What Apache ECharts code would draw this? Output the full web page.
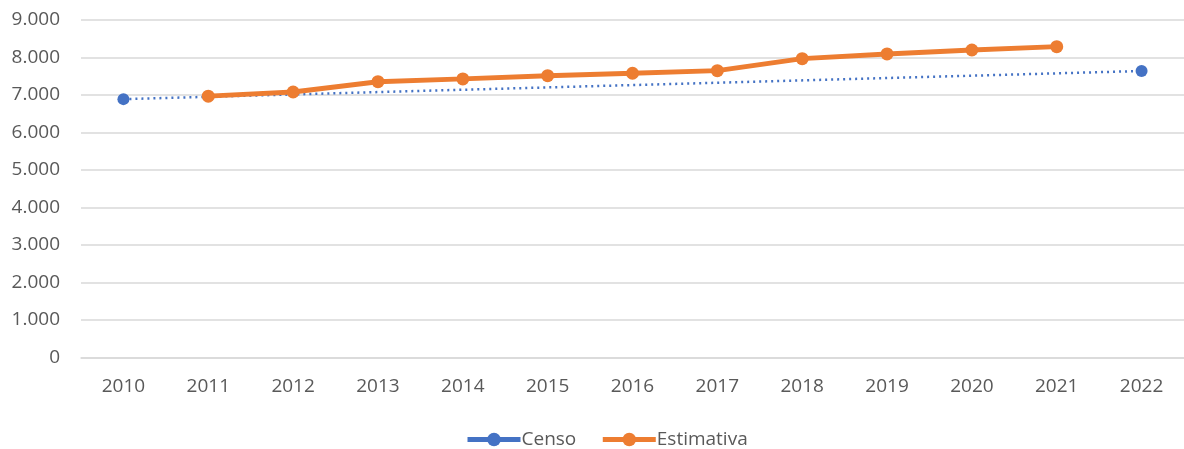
<!DOCTYPE html>
<html>
<head>
<meta charset="utf-8">
<script src="https://cdn.jsdelivr.net/npm/echarts@6/dist/echarts.min.js"></script>
<style>
    html, body { margin: 0; padding: 0; background: #fff; }
    #chart { width: 1184px; height: 449px; }
</style>
</head>
<body>
<div id="chart"></div>
<script>
// 年份
var anos = ['2010', '2011', '2012', '2013', '2014', '2015', '2016', '2017', '2018', '2019', '2020', '2021', '2022'];
// censo (só 2010 e 2022)
var censo = [6890, null, null, null, null, null, null, null, null, null, null, null, 7640];
// estimativas anuais
var estimativa = [null, 6970, 7080, 7355, 7430, 7515, 7580, 7650, 7970, 8095, 8200, 8290, null];

var azul = '#4472C4';
var laranja = '#ED7D31';
var corTexto = '#595959';
var fonte = '"Open Sans", "Liberation Sans", sans-serif';

var myChart = echarts.init(document.getElementById('chart'));

var option = {
    animation: false,
    textStyle: { fontFamily: fonte },
    grid: {
        left: 81,
        right: 0,
        top: 20,
        bottom: 91.5
    },
    legend: {
        top: 425,
        left: 460,
        itemWidth: 53,
        itemHeight: 17,
        itemGap: 24,
        textStyle: { color: corTexto, fontSize: 19, fontFamily: fonte, padding: [0, 0, 0, -4] },
        data: [
            { name: 'Censo', lineStyle: { type: 'solid', width: 5 } },
            { name: 'Estimativa', lineStyle: { width: 5 } }
        ]
    },
    xAxis: {
        type: 'category',
        data: anos,
        boundaryGap: true,
        axisLine: { show: true, lineStyle: { color: '#d9d9d9', width: 1.5 } },
        axisTick: { show: false },
        axisLabel: { color: corTexto, fontSize: 19, margin: 20, fontFamily: fonte }
    },
    yAxis: {
        type: 'value',
        min: 0,
        max: 9000,
        interval: 1000,
        axisLine: { show: false },
        axisTick: { show: false },
        splitLine: { lineStyle: { color: '#d9d9d9', width: 1.5 } },
        axisLabel: {
            color: corTexto,
            fontSize: 19,
            margin: 21,
            fontFamily: fonte,
            formatter: function (v) {
                return v === 0 ? '0' : String(v).replace(/\B(?=(\d{3})+(?!\d))/g, '.');
            }
        }
    },
    series: [
        {
            name: 'Censo',
            type: 'line',
            data: censo,
            connectNulls: true,
            symbol: 'circle',
            symbolSize: 12,
            itemStyle: { color: azul },
            lineStyle: { color: azul, width: 2.5, type: [2, 4] }
        },
        {
            name: 'Estimativa',
            type: 'line',
            data: estimativa,
            symbol: 'circle',
            symbolSize: 13,
            itemStyle: { color: laranja },
            lineStyle: { color: laranja, width: 5 }
        }
    ]
};

myChart.setOption(option);
window.addEventListener('resize', function () { myChart.resize(); });
</script>
</body>
</html>
